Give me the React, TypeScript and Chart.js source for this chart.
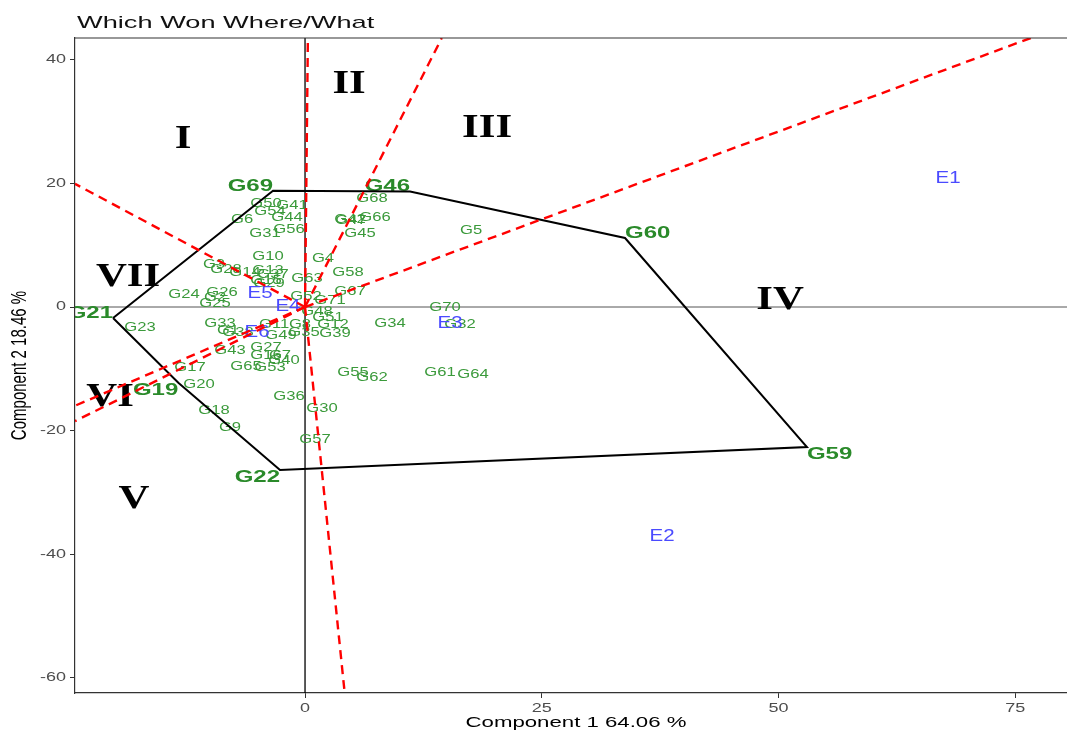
import React, { useEffect, useRef } from "react";
import { Chart, registerables } from "chart.js";

Chart.register(...registerables);

// ---------------- data ----------------
const titleText = "Which Won Where/What";
const xTitle = "Component 1 64.06 %";
const yTitle = "Component 2 18.46 %";

const xTicks = [0, 25, 50, 75];
const yTicks = [-60, -40, -20, 0, 20, 40];
const xRange = [-24.29, 80.46];
const yRange = [-62.46, 43.53];

// polygon (convex hull) genotypes, in drawing order
const hullNames = ["G21", "G69", "G46", "G60", "G59", "G22", "G19"];
const hullX = [-20.27, -3.38, 11.09, 33.79, 53.0, -2.64, -13.38];
const hullY = [-1.78, 18.8, 18.7, 11.17, -22.65, -26.38, -12.25];

// remaining genotypes
const genoNames = [
  "G1", "G2", "G3", "G4", "G5", "G6", "G7", "G8", "G9", "G10",
  "G11", "G12", "G13", "G14", "G15", "G16", "G17", "G18", "G20", "G23",
  "G24", "G25", "G26", "G27", "G28", "G29", "G30", "G31", "G32", "G33",
  "G34", "G35", "G36", "G37", "G38", "G39", "G40", "G41", "G42", "G43",
  "G44", "G45", "G47", "G48", "G49", "G50", "G51", "G52", "G53", "G54",
  "G55", "G56", "G57", "G58", "G61", "G62", "G63", "G64", "G65", "G66",
  "G67", "G68", "G70", "G71",
];
const genoX = [
  -8.13, -9.5, -9.61, 1.9, 17.53, -6.65, -2.64, -0.53, -7.92, -3.91,
  -3.27, 2.96, -3.91, -6.34, -4.12, -4.12, -12.14, -9.61, -11.19, -17.42,
  -12.78, -9.5, -8.76, -4.12, -8.34, -3.8, 1.8, -4.22, 16.37, -8.98,
  8.98, -0.11, -1.69, -3.38, -7.07, 3.17, -2.22, -1.37, 4.75, -7.92,
  -1.9, 5.81, 4.86, 1.27, -2.53, -4.12, 2.43, 0.11, -3.7, -3.7,
  5.07, -1.69, 1.06, 4.54, 14.26, 7.07, 0.21, 17.74, -6.23, 7.39,
  4.75, 7.07, 14.78, 2.64,
];
const genoY = [
  -3.88, 1.46, 6.8, 7.77, 12.3, 14.08, -7.93, -2.91, -19.42, 8.09,
  -2.91, -2.91, 5.83, 5.66, 4.21, -7.77, -9.87, -16.83, -12.62, -3.24,
  2.1, 0.49, 2.27, -6.63, 5.99, 3.88, -16.5, 11.97, -2.91, -2.75,
  -2.75, -4.05, -14.56, 5.18, -4.05, -4.21, -8.58, 16.5, 14.08, -7.12,
  14.56, 11.97, 13.92, -0.81, -4.69, 16.67, -1.62, 1.62, -9.87, 15.53,
  -10.68, 12.62, -21.52, 5.66, -10.68, -11.33, 4.53, -11.0, -9.71, 14.56,
  2.43, 17.48, -0.16, 1.13,
];

// environments
const envNames = ["E1", "E2", "E3", "E4", "E5", "E6"];
const envX = [67.9, 37.7, 15.31, -1.8, -4.75, -5.07];
const envY = [20.71, -37.22, -2.75, 0.0, 2.1, -4.21];

// sector numerals
const sectorNames = ["I", "II", "III", "IV", "V", "VI", "VII"];
const sectorX = [-12.88, 4.65, 19.22, 50.16, -18.06, -20.59, -18.69];
const sectorY = [27.18, 36.08, 28.96, 1.13, -31.07, -14.56, 4.85];

// ---------------- helpers ----------------
type P = { x: number; y: number };

function rayEnd(a: P, b: P): P {
  // foot of the perpendicular from origin onto edge line a-b, extended to panel edge
  const dx = b.x - a.x;
  const dy = b.y - a.y;
  const t = -(a.x * dx + a.y * dy) / (dx * dx + dy * dy);
  const px = a.x + t * dx;
  const py = a.y + t * dy;
  const ks: number[] = [];
  if (px > 0) ks.push(xRange[1] / px);
  if (px < 0) ks.push(xRange[0] / px);
  if (py > 0) ks.push(yRange[1] / py);
  if (py < 0) ks.push(yRange[0] / py);
  const k = Math.min(...ks);
  return { x: px * k, y: py * k };
}

function txt(
  ctx: CanvasRenderingContext2D,
  s: string,
  x: number,
  y: number,
  font: string,
  color: string,
  align: CanvasTextAlign,
  baseline: CanvasTextBaseline,
  sx: number
) {
  ctx.save();
  ctx.translate(x, y);
  ctx.scale(sx, 1);
  ctx.font = font;
  ctx.fillStyle = color;
  ctx.textAlign = align;
  ctx.textBaseline = baseline;
  ctx.fillText(s, 0, 0);
  ctx.restore();
}

const SANS = '"Liberation Sans", Arial, sans-serif';
const SERIF = '"Liberation Serif", "Times New Roman", serif';

const ggePlugin = {
  id: "ggeText",
  beforeDatasetsDraw(chart: any) {
    const { ctx, chartArea: a } = chart;
    const xs = chart.scales.x;
    const ys = chart.scales.y;
    ctx.save();
    ctx.beginPath();
    ctx.rect(a.left, a.top, a.right - a.left, a.bottom - a.top);
    ctx.clip();

    const x0 = xs.getPixelForValue(0);
    const y0 = ys.getPixelForValue(0);
    ctx.strokeStyle = "#555555";
    ctx.lineWidth = 1;
    ctx.beginPath();
    ctx.moveTo(a.left, y0);
    ctx.lineTo(a.right, y0);
    ctx.stroke();
    ctx.strokeStyle = "#000000";
    ctx.lineWidth = 1.3;
    ctx.beginPath();
    ctx.moveTo(x0, a.top);
    ctx.lineTo(x0, a.bottom);
    ctx.stroke();

    // genotype labels
    genoNames.forEach((n, i) => {
      txt(ctx, n, xs.getPixelForValue(genoX[i]), ys.getPixelForValue(genoY[i]),
        `12.6px ${SANS}`, "#3b9a3b", "center", "middle", 1.32);
    });
    // environment labels
    envNames.forEach((n, i) => {
      txt(ctx, n, xs.getPixelForValue(envX[i]), ys.getPixelForValue(envY[i]),
        `16px ${SANS}`, "#4a4aff", "center", "middle", 1.28);
    });
    // hull genotype labels (justified outward)
    const cx = (xRange[0] + xRange[1]) / 2;
    const cy = (yRange[0] + yRange[1]) / 2;
    hullNames.forEach((n, i) => {
      const align: CanvasTextAlign = hullX[i] < cx ? "right" : "left";
      const base: CanvasTextBaseline = hullY[i] > cy ? "alphabetic" : "top";
      txt(ctx, n, xs.getPixelForValue(hullX[i]), ys.getPixelForValue(hullY[i]),
        `bold 16px ${SANS}`, "#2a8a2a", align, base, 1.5);
    });
    // sector numerals
    sectorNames.forEach((n, i) => {
      txt(ctx, n, xs.getPixelForValue(sectorX[i]), ys.getPixelForValue(sectorY[i]),
        `bold 34px ${SERIF}`, "#000000", "center", "middle", 1.26);
    });
    ctx.restore();
  },
  afterDraw(chart: any) {
    const { ctx, chartArea: a } = chart;
    const xs = chart.scales.x;
    const ys = chart.scales.y;
    // top border
    ctx.save();
    ctx.strokeStyle = "#333333";
    ctx.lineWidth = 1.2;
    ctx.beginPath();
    ctx.moveTo(a.left, a.top);
    ctx.lineTo(a.right, a.top);
    ctx.stroke();
    ctx.restore();
    // tick labels
    xTicks.forEach((v) => {
      txt(ctx, String(v), xs.getPixelForValue(v), a.bottom + 16,
        `12px ${SANS}`, "#4d4d4d", "center", "middle", 1.5);
    });
    yTicks.forEach((v) => {
      txt(ctx, String(v), a.left - 9, ys.getPixelForValue(v),
        `12px ${SANS}`, "#4d4d4d", "right", "middle", 1.5);
    });
    // axis titles
    txt(ctx, xTitle, (a.left + a.right) / 2 + 5, a.bottom + 30,
      `15px ${SANS}`, "#000000", "center", "middle", 1.48);
    ctx.save();
    ctx.translate(20, (a.top + a.bottom) / 2);
    ctx.scale(1.48, 1);
    ctx.rotate(-Math.PI / 2);
    ctx.font = `15px ${SANS}`;
    ctx.fillStyle = "#000000";
    ctx.textAlign = "center";
    ctx.textBaseline = "middle";
    ctx.fillText(yTitle, 0, 0);
    ctx.restore();
    // title
    txt(ctx, titleText, 77, 28, `17px ${SANS}`, "#111111", "left", "alphabetic", 1.6);
  },
};

export default function App() {
  const ref = useRef<HTMLCanvasElement | null>(null);

  useEffect(() => {
    document.body.style.margin = "0";
    if (!ref.current) return;

    const hullPts: P[] = hullX.map((x, i) => ({ x, y: hullY[i] }));
    const closed = [...hullPts, hullPts[0]];
    const rayDatasets = hullPts.map((p, i) => {
      const q = hullPts[(i + 1) % hullPts.length];
      return {
        label: `ray${i}`,
        data: [{ x: 0, y: 0 }, rayEnd(p, q)],
        showLine: true,
        borderColor: "#ff0000",
        borderWidth: 2.4,
        borderDash: [9, 6],
        pointRadius: 0,
        fill: false,
      };
    });

    const chart = new Chart(ref.current, {
      type: "scatter",
      data: {
        datasets: [
          ...rayDatasets,
          {
            label: "hull",
            data: closed,
            showLine: true,
            borderColor: "#000000",
            borderWidth: 2,
            pointRadius: 0,
            fill: false,
          },
        ] as any,
      },
      options: {
        animation: false,
        responsive: false,
        devicePixelRatio: 1,
        events: [],
        layout: { padding: { top: 38, left: 0, right: 0, bottom: 0 } },
        plugins: {
          legend: { display: false },
          tooltip: { enabled: false },
          title: { display: false },
        },
        scales: {
          x: {
            type: "linear",
            min: xRange[0],
            max: xRange[1],
            afterBuildTicks: (s: any) => {
              s.ticks = xTicks.map((v) => ({ value: v }));
            },
            afterFit: (s: any) => {
              s.height = 38;
            },
            ticks: { display: false },
            grid: {
              display: true,
              drawOnChartArea: false,
              drawTicks: true,
              tickLength: 5,
              color: "#333333",
            },
            border: { display: true, color: "#333333", width: 1.2 },
          },
          y: {
            type: "linear",
            min: yRange[0],
            max: yRange[1],
            afterBuildTicks: (s: any) => {
              s.ticks = yTicks.map((v) => ({ value: v }));
            },
            afterFit: (s: any) => {
              s.width = 75;
            },
            ticks: { display: false },
            grid: {
              display: true,
              drawOnChartArea: false,
              drawTicks: true,
              tickLength: 5,
              color: "#333333",
            },
            border: { display: true, color: "#333333", width: 1.2 },
          },
        },
      } as any,
      plugins: [ggePlugin as any],
    });

    return () => chart.destroy();
  }, []);

  return (
    <div style={{ width: 1067, height: 731, background: "#ffffff" }}>
      <canvas
        ref={ref}
        width={1067}
        height={731}
        style={{ display: "block", width: 1067, height: 731 }}
      />
    </div>
  );
}
